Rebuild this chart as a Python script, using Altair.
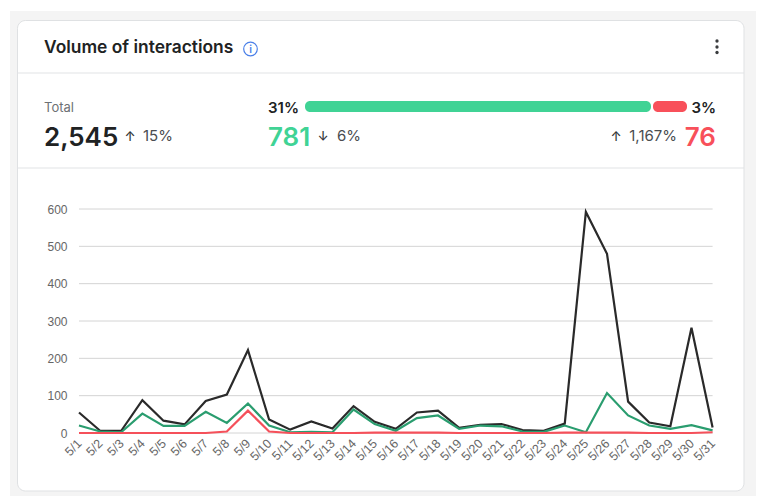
import altair as alt
import pandas as pd

days = [f"5/{d}" for d in range(1, 32)]
total = [55, 6, 6, 88, 33, 23, 86, 103, 222, 36, 9, 31, 12, 72, 30, 11, 55, 60, 14, 22, 24, 8, 6, 25, 592, 480, 84, 28, 18, 282, 15]
positive = [20, 4, 2, 52, 19, 19, 57, 27, 79, 20, 2, 3, 2, 63, 24, 6, 40, 47, 11, 20, 18, 4, 3, 20, 2, 107, 47, 20, 11, 21, 7]
negative = [0, 0, 0, 0, 0, 0, 0, 4, 60, 4, 0, 0, 0, 0, 1, 1, 1, 1, 0, 0, 0, 0, 0, 1, 1, 1, 1, 0, 0, 0, 2]
y_ticks = [0, 100, 200, 300, 400, 500, 600]

PW, PH = 633.6, 224
OX, OY = 79, 209
FONT = "Inter"
DARK = "#202223"
MID = "#4a4d50"
GREEN = "#40d395"
RED = "#f8505a"

one = pd.DataFrame({"k": [0]})
df = pd.DataFrame({"day": days, "total": total, "positive": positive, "negative": negative})
grid = pd.DataFrame({"v": y_ticks})


def X(px):
    return alt.value(px - OX)


def Y(px):
    return alt.value(px - OY)


def box(x0, y0, x1, y1, fill, stroke=None, radius=0):
    kw = {"fill": fill, "cornerRadius": radius}
    if stroke:
        kw.update(stroke=stroke, strokeWidth=1)
    return alt.Chart(one).mark_rect(**kw).encode(x=X(x0), x2=X(x1), y=Y(y0), y2=Y(y1))


def hline(y):
    return alt.Chart(one).mark_rule(color="#e1e3e5", strokeWidth=1).encode(x=X(17.5), x2=X(744), y=Y(y))


def label(s, x, y, size, color, weight=400, align="left"):
    return alt.Chart(one).mark_text(
        text=s, font=FONT, fontSize=size, color=color, fontWeight=weight, align=align, baseline="alphabetic"
    ).encode(x=X(x), y=Y(y))


def dot(y):
    return alt.Chart(one).mark_point(filled=True, size=11, color="#3a3c3e", opacity=1).encode(x=X(717), y=Y(y))


x_enc = alt.X(
    "day:N", sort=days, scale=alt.Scale(type="point", padding=0, domain=days),
    axis=alt.Axis(title=None, grid=False, domain=False, ticks=False, labelAngle=315, labelFontSize=12.5,
                  labelFont="Liberation Sans", labelColor="#666666", labelPadding=8, labelOverlap=False,
                  labelAlign="right", labelBaseline="middle", zindex=1),
)
y_axis = alt.Axis(title=None, grid=False, domain=False, ticks=False, values=y_ticks, labelFontSize=12,
                  labelFont="Liberation Sans", labelColor="#666666", labelPadding=12, zindex=1)
y_scale = alt.Scale(domain=[0, 600], nice=False)


def series(field, color):
    return alt.Chart(df).mark_line(color=color, strokeWidth=2.2, strokeJoin="miter").encode(
        x=x_enc, y=alt.Y(f"{field}:Q", scale=y_scale, axis=y_axis)
    )


rules = alt.Chart(grid).mark_rule(color="#d4d4d4", strokeWidth=1).encode(
    y=alt.Y("v:Q", scale=y_scale, axis=y_axis), x=alt.value(0), x2=alt.value(PW)
)

chart = alt.layer(
    box(10, 11, 770, 500, "#f4f4f4"),
    box(17.5, 20.5, 744, 491, "#ffffff", "#dfe1e3", 8),
    hline(73),
    hline(168),
    label("Volume of interactions", 44, 53, 17.4, DARK, 600),
    alt.Chart(one).mark_point(filled=False, size=185, color="#4a7fe8", strokeWidth=1.2, opacity=1).encode(x=X(250.5), y=Y(49)),
    label("i", 250.5, 53, 10.5, "#4a7fe8", 600, "center"),
    dot(41), dot(47), dot(52.5),
    label("Total", 44, 112, 13, "#6d7175"),
    label("2,545", 44, 146, 26, DARK, 600),
    label("↑", 130, 141, 13, "#333538", 500, "center"),
    label("15%", 143, 141, 15, MID),
    label("31%", 268, 113, 15, DARK, 600),
    box(305, 101, 651, 112, GREEN, None, 5),
    box(653, 101, 687, 112, RED, None, 5),
    label("3%", 716, 113, 15, DARK, 600, "right"),
    label("781", 268, 146, 26, GREEN, 600),
    label("↓", 323, 141, 13, "#333538", 500, "center"),
    label("6%", 337, 141, 15, MID),
    label("↑", 616, 141, 13, "#333538", 500, "center"),
    label("1,167%", 677, 141, 15, MID, 400, "right"),
    label("76", 716, 146, 26, RED, 600, "right"),
    rules,
    series("total", "#2a2a2a"),
    series("positive", "#2a9d6f"),
    series("negative", "#f5505a"),
).resolve_scale(y="shared").properties(
    width=PW, height=PH,
    autosize=alt.AutoSizeParams(type="none"),
    padding={"left": OX - 8, "top": OY - 8, "right": 748 - (OX - 8) - PW, "bottom": 488 - (OY - 8) - PH},
    background="#ffffff",
).configure_view(stroke=None)

chart.save("out.html", embed_options={"renderer": "svg", "actions": False})
